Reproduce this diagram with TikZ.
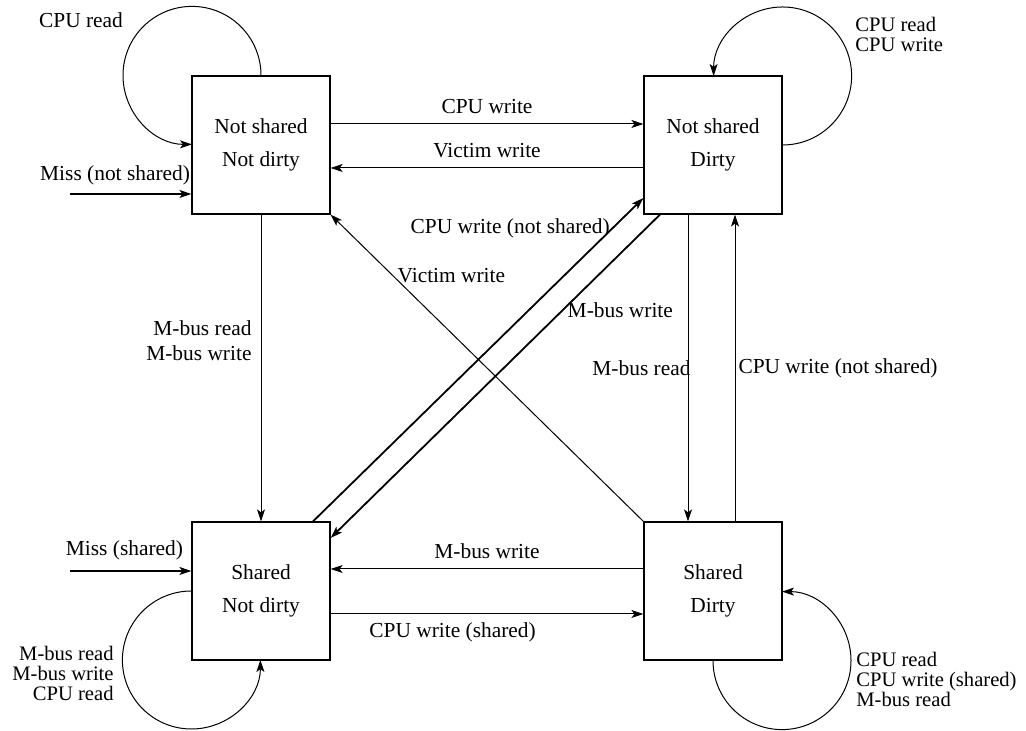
\documentclass[tikz,border=0pt]{standalone}
\usepackage{fontspec}
\setmainfont{Liberation Serif}
\usetikzlibrary{arrows.meta,calc}
\begin{document}
\begin{tikzpicture}[x=0.5pt,y=0.5pt,
  state/.style={draw,line width=0.6pt,minimum width=69pt,minimum height=69pt,inner sep=0pt,align=center,font=\fontsize{10.7}{16.5}\selectfont},
  tr/.style={draw,line width=0.5pt,-{Stealth[length=6pt,width=4pt,inset=1.5pt]}},
  thicktr/.style={tr,line width=0.9pt},
  misstr/.style={tr,line width=0.7pt},
  lbl/.style={font=\fontsize{10.7}{12}\selectfont,inner sep=2pt},
  multi/.style={font=\fontsize{10.3}{10}\selectfont,inner sep=2pt},
]
\useasboundingbox (0,0) rectangle (1026,731);
\node[state] (A) at (261,586) {Not shared\\Not dirty};
\node[state] (B) at (713,586) {Not shared\\Dirty};
\node[state] (C) at (261,140) {Shared\\Not dirty};
\node[state] (D) at (713,140) {Shared\\Dirty};

% top horizontals
\draw[tr] ($(A.east)+(0,21)$) -- node[lbl,above,yshift=3pt] {CPU write} ($(B.west)+(0,21)$);
\draw[tr] ($(B.west)+(0,-23)$) -- node[lbl,above,yshift=3pt] {Victim write} ($(A.east)+(0,-23)$);

% bottom horizontals
\draw[tr] ($(D.west)+(0,22)$) -- node[lbl,above,yshift=3pt] {M-bus write} ($(C.east)+(0,22)$);
\draw[tr] ($(C.east)+(0,-23)$) -- node[lbl,below,pos=0.39,yshift=-2pt] {CPU write (shared)} ($(D.west)+(0,-23)$);

% misses
\coordinate (m1) at ($(A.west)+(-121,-49)$);
\draw[misstr] (m1) -- (m1 -| A.west);
\node[lbl,anchor=east] (m1l) at ($(A.west)+(3,-30)$) {Miss (not shared)};
\coordinate (m2) at ($(C.west)+(-121,20)$);
\draw[misstr] (m2) -- (m2 -| C.west);
\node[lbl,anchor=east] (m2l) at ($(C.west)+(-4,41)$) {Miss (shared)};

% verticals
\draw[tr] (A.south) -- node[left,pos=0.41,inner sep=4.5pt,align=right,font=\fontsize{10.7}{12.5}\selectfont] {M-bus read\\M-bus write} (C.north);
\draw[tr] ($(B.south)+(-25,0)$) -- node[lbl,anchor=east,inner sep=0pt,xshift=1.5pt,midway] {M-bus read} ($(D.north)+(-25,0)$);
\draw[tr] ($(D.north)+(22,0)$) -- node[lbl,anchor=west,inner sep=1.5pt,midway] {CPU write (not shared)} ($(B.south)+(22,0)$);

% diagonals
\draw[tr] (D.north west) -- node[lbl,anchor=west,pos=0.8] {Victim write} (A.south east);
\draw[thicktr] ($(C.north)+(52,0)$) -- node[lbl,anchor=east,pos=0.907,inner sep=1pt] {CPU write (not shared)} ($(B.west)+(0,-53)$);
\draw[thicktr] ($(B.south)+(-53,0)$) -- node[lbl,anchor=west,pos=0.295] {M-bus write} ($(C.east)+(0,53)$);

% self loops
\draw[tr] (A.north) arc[start angle=0,end angle=270,radius=69];
\node[lbl] (la) at (81,711) {CPU read};
\draw[tr] (B.east) arc[start angle=-90,end angle=180,radius=69];
\node[multi,anchor=west,align=left] (lb) at (851,697) {CPU read\\CPU write};
\draw[tr] (C.west) arc[start angle=90,end angle=360,radius=69];
\node[multi,anchor=east,align=right] (lc) at (118,58) {M-bus read\\M-bus write\\CPU read};
\draw[tr] (D.south) arc[start angle=180,end angle=450,radius=69];
\node[multi,anchor=west,align=left] (ld) at (852,52) {CPU read\\CPU write (shared)\\M-bus read};
\end{tikzpicture}
\end{document}
